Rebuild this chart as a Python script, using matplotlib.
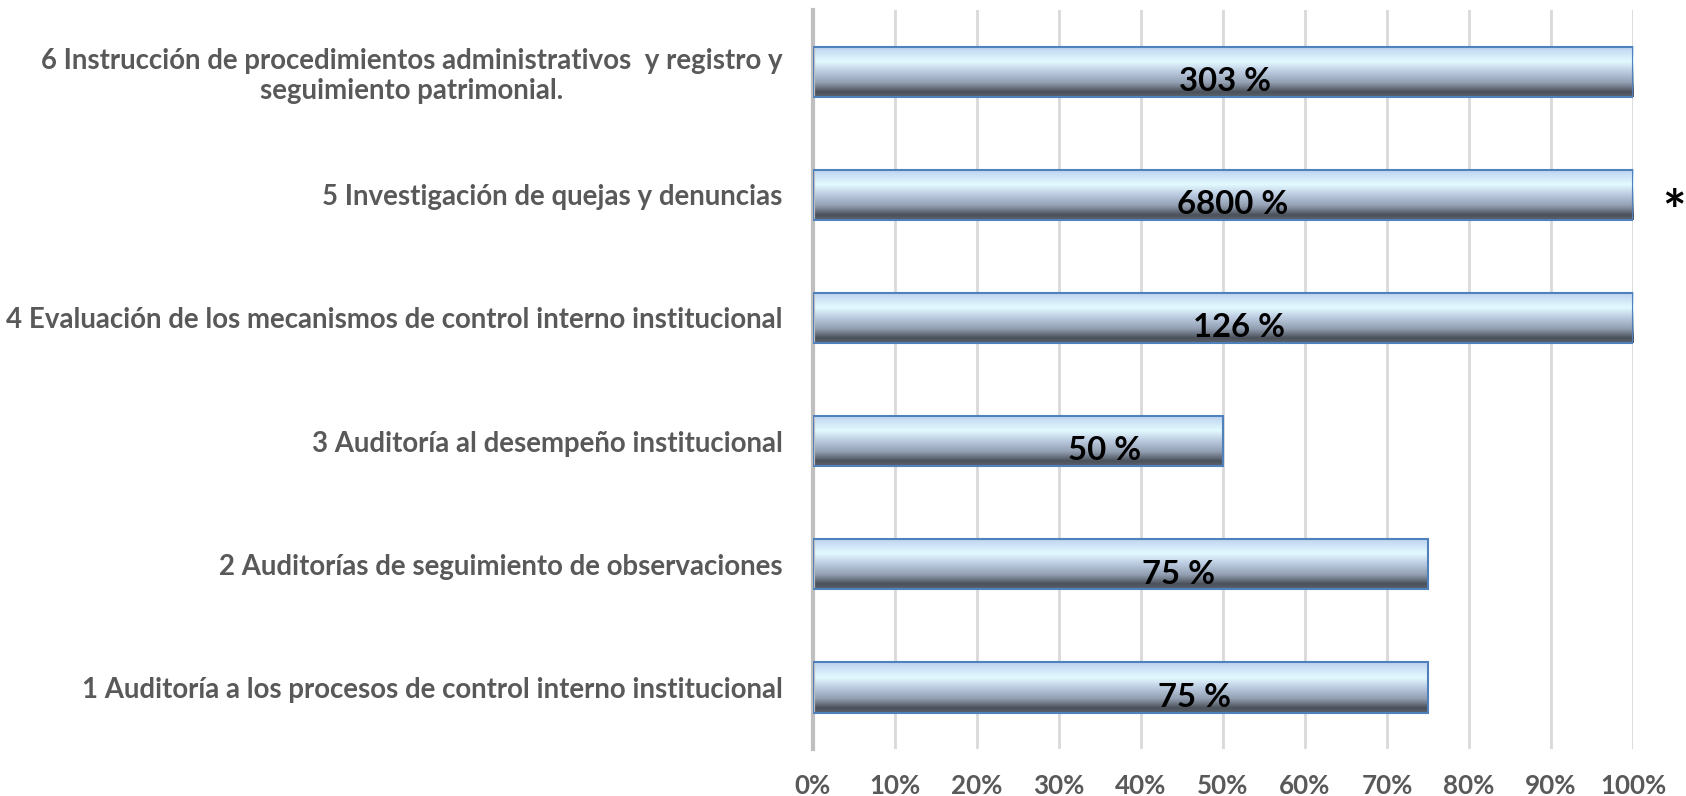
import numpy as np
import matplotlib.pyplot as plt
from matplotlib.colors import LinearSegmentedColormap

# Datos
categorias = [
    "1 Auditoría a los procesos de control interno institucional",
    "2 Auditorías de seguimiento de observaciones",
    "3 Auditoría al desempeño institucional",
    "4 Evaluación de los mecanismos de control interno institucional",
    "5 Investigación de quejas y denuncias",
    "6 Instrucción de procedimientos administrativos  y registro y\nseguimiento patrimonial.",
]
avance = [75, 75, 50, 100, 100, 100]          # longitud de barra (tope 100 %)
etiquetas = ["75 %", "75 %", "50 %", "126 %", "6800 %", "303 %"]
pos_etiqueta = [46.5, 44.6, 35.5, 52.0, 51.2, 50.2]
ticks = list(range(0, 101, 10))

plt.rcParams['font.family'] = ['Lato', 'DejaVu Sans']

fig = plt.figure(figsize=(16.86, 7.96), dpi=100)
r = fig.canvas.get_renderer()


def tam(texto, ancho, base=20):
    # tamaño de letra para que el texto en negrita mida 'ancho' px
    t = fig.text(0, 0, texto, fontsize=base, fontweight='bold')
    w = t.get_window_extent(r).width
    t.remove()
    return base * ancho / w


fs_cat = tam(categorias[3], 776)
fs_tick = tam("100%", 67)
fs_bar = tam("303 %", 92)

ax = fig.add_axes([0.4822, 0.0590, 0.4864, 0.9284])

# degradado vertical de las barras
grad = LinearSegmentedColormap.from_list("barra", [
    (0.0, "#bcd1ee"), (0.3, "#e3faff"), (0.5, "#bccbe0"),
    (0.72, "#929fb2"), (0.9, "#4b515a"), (1.0, "#5c626b")])
img = np.linspace(0, 1, 200).reshape(-1, 1)

alto = 0.407
y = np.arange(len(categorias))
for yi, v in zip(y, avance):
    ax.imshow(img, cmap=grad, aspect='auto', origin='upper',
              extent=(0, v, yi - alto / 2, yi + alto / 2), zorder=2)
ax.barh(y, avance, height=alto, facecolor='none',
        edgecolor='#4f81bd', linewidth=1.5, zorder=3)

for yi, txt, px in zip(y, etiquetas, pos_etiqueta):
    ax.text(px, yi - 0.08, txt, ha='center', va='center', fontsize=fs_bar,
            fontweight='bold', color='black', zorder=4)

ax.text(105, 4 - 0.16, "*", ha='center', va='center', fontsize=40,
        fontweight='bold', color='black', clip_on=False)

ax.set_xlim(0, 100)
ax.set_ylim(-0.5, 5.5)
ax.set_xticks(ticks)
ax.set_xticklabels([f"{t}%" for t in ticks], fontsize=fs_tick,
                   fontweight='bold', color='#595959')
ax.set_yticks(y)
ax.set_yticklabels(categorias, multialignment='center', fontsize=fs_cat,
                   fontweight='bold', color='#595959')
ax.tick_params(axis='x', length=0, pad=18)
ax.tick_params(axis='y', length=0, pad=22)

ax.grid(axis='x', color='#d9d9d9', linewidth=2, zorder=0)
ax.set_axisbelow(True)
for s in ['top', 'right', 'bottom']:
    ax.spines[s].set_visible(False)
ax.spines['left'].set_color('#bfbfbf')
ax.spines['left'].set_linewidth(3)

fig.savefig("out.png", dpi=100)
